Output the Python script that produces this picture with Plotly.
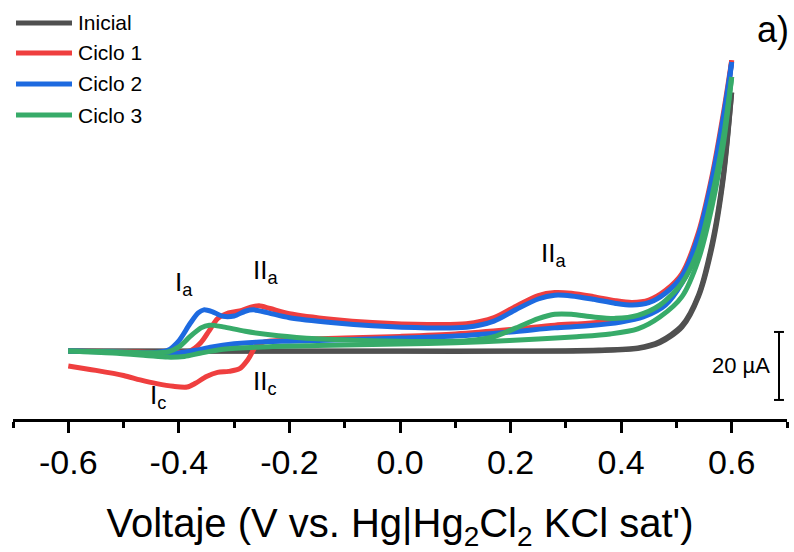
import plotly.graph_objects as go

# ---------------- data (V vs. current in µA, baseline-shifted) ----------------
ini_fwd_v = [-0.6, -0.4, -0.2, 0.0, 0.2, 0.3, 0.36, 0.43, 0.47, 0.51, 0.54, 0.565, 0.585, 0.6]
ini_fwd_i = [0, 0, 0, 0, 0, 0.1, 0.3, 0.9, 2.8, 7.5, 16.5, 32, 52, 76]
ini_rev_v = [0.6, 0.585, 0.565, 0.54, 0.51, 0.47, 0.43, 0.36, 0.2, 0.0, -0.2, -0.4, -0.6]
ini_rev_i = [76, 51, 31, 16, 7, 2.4, 0.7, 0.1, -0.1, -0.1, -0.1, -0.1, 0]

c1_fwd_v = [-0.6, -0.5, -0.42, -0.38, -0.36, -0.345, -0.33, -0.31, -0.29, -0.27, -0.255, -0.235, -0.2,
            -0.12, -0.05, 0.05, 0.12, 0.17, 0.21, 0.25, 0.28, 0.31, 0.35, 0.39, 0.42, 0.45, 0.48, 0.51,
            0.54, 0.565, 0.585, 0.6]
c1_fwd_i = [0, -0.2, -0.4, 0, 2.5, 6, 9.5, 11.2, 11.8, 12.9, 13.3, 12.5, 11, 9.3, 8.4, 7.8, 8.0, 9.8,
            13.2, 16.3, 17.2, 17.0, 16.0, 14.8, 14.3, 15.0, 17.8, 22.8, 35, 52, 70, 85.5]
c1_rev_v = [0.6, 0.585, 0.565, 0.54, 0.51, 0.48, 0.44, 0.40, 0.34, 0.28, 0.2, 0.1, 0.0, -0.1, -0.2,
            -0.245, -0.26, -0.275, -0.29, -0.31, -0.33, -0.35, -0.37, -0.385, -0.41, -0.44, -0.47,
            -0.5, -0.55, -0.6]
c1_rev_i = [85.5, 66.5, 48, 32, 20.5, 14, 10.6, 9.2, 8.2, 7.6, 6.3, 5.0, 4.3, 3.8, 3.2, 2.7, 1.5, -2.5,
            -5.2, -6, -6.3, -7.5, -9.5, -10.6, -10.4, -9.6, -8.5, -7.2, -5.7, -4.4]

c2_fwd_v = [-0.6, -0.52, -0.45, -0.42, -0.40, -0.38, -0.365, -0.355, -0.34, -0.32, -0.30, -0.28, -0.265,
            -0.24, -0.2, -0.12, -0.05, 0.05, 0.12, 0.17, 0.21, 0.25, 0.28, 0.31, 0.35, 0.39, 0.42, 0.45,
            0.48, 0.51, 0.54, 0.565, 0.585, 0.6]
c2_fwd_i = [0, -0.2, -0.5, 0.2, 3, 8, 11.2, 12.1, 11.6, 10.2, 10.3, 11.7, 12.1, 11.3, 9.8, 8.3, 7.4, 6.8,
            7.0, 8.8, 12.2, 15.3, 16.4, 16.2, 15.2, 14.0, 13.5, 14.2, 17, 22, 34, 51, 69, 85]
c2_rev_v = [0.6, 0.585, 0.565, 0.54, 0.51, 0.48, 0.44, 0.40, 0.34, 0.28, 0.2, 0.1, 0.0, -0.1, -0.2,
            -0.26, -0.3, -0.34, -0.37, -0.40, -0.43, -0.47, -0.53, -0.6]
c2_rev_i = [85, 66, 47, 31, 20, 13.5, 10, 8.5, 7.4, 6.8, 5.6, 4.4, 3.8, 3.3, 2.9, 2.6, 2.1, 1.2, 0.2,
            -0.6, -0.9, -0.7, -0.3, 0]

c3_fwd_v = [-0.6, -0.52, -0.45, -0.42, -0.40, -0.38, -0.36, -0.345, -0.32, -0.28, -0.22, -0.15, -0.05,
            0.05, 0.12, 0.17, 0.21, 0.25, 0.28, 0.31, 0.35, 0.39, 0.43, 0.47, 0.51, 0.54, 0.565, 0.585, 0.6]
c3_fwd_i = [0, -0.2, -0.5, -0.3, 1.2, 4.2, 6.8, 7.6, 7.1, 5.8, 4.5, 3.6, 3.0, 2.8, 3.0, 4.2, 6.8, 9.5,
            10.8, 10.8, 10.0, 9.6, 10.5, 13.5, 20, 30, 46, 63, 80.6]
c3_rev_v = [0.6, 0.585, 0.565, 0.54, 0.51, 0.47, 0.43, 0.38, 0.32, 0.25, 0.15, 0.05, -0.05, -0.15, -0.25,
            -0.32, -0.36, -0.39, -0.42, -0.46, -0.52, -0.6]
c3_rev_i = [80.6, 61, 43, 27, 16, 10, 6.5, 5, 4.2, 3.5, 2.7, 2.2, 1.9, 1.6, 1.2, 0.5, -0.6, -1.6, -1.8,
            -1.3, -0.6, 0]

series_names = ["Inicial", "Ciclo 1", "Ciclo 2", "Ciclo 3"]
series_colors = ["#505050", "#ef3f3f", "#1d6ae0", "#37ab69"]

tick_vals = [-0.6, -0.4, -0.2, 0.0, 0.2, 0.4, 0.6]
tick_text = ["-0.6", "-0.4", "-0.2", "0.0", "0.2", "0.4", "0.6"]
minor_vals = [-0.7, -0.5, -0.3, -0.1, 0.1, 0.3, 0.5, 0.7]

scale_bar_ua = 20

# ---------------- figure ----------------
W, H = 794, 552
ML, MR, MT, MB = 13, 7, 10, 133
FONT = "Liberation Sans, Arial, sans-serif"

fig = go.Figure()
branches = [
    (ini_fwd_v, ini_fwd_i, ini_rev_v, ini_rev_i),
    (c1_fwd_v, c1_fwd_i, c1_rev_v, c1_rev_i),
    (c2_fwd_v, c2_fwd_i, c2_rev_v, c2_rev_i),
    (c3_fwd_v, c3_fwd_i, c3_rev_v, c3_rev_i),
]
for name, color, (fv, fi, rv, ri) in zip(series_names, series_colors, branches):
    for vv, ii in ((fv, fi), (rv, ri)):
        fig.add_trace(go.Scatter(x=vv, y=ii, mode="lines", name=name, legendgroup=name,
                                 showlegend=False,
                                 line=dict(color=color, width=5, shape="spline", smoothing=0.8)))

# manual legend (pixel -> paper)
def px2paper_x(px):
    return (px - ML) / (W - ML - MR)

def py2paper_y(py):
    return (H - MB - py) / (H - MT - MB)

shapes = []
annotations = []
leg_rows = [23, 53, 84, 115]
for name, color, ry in zip(series_names, series_colors, leg_rows):
    shapes.append(dict(type="line", xref="paper", yref="paper",
                       x0=px2paper_x(16), x1=px2paper_x(72), y0=py2paper_y(ry), y1=py2paper_y(ry),
                       line=dict(color=color, width=5)))
    annotations.append(dict(xref="paper", yref="paper", x=px2paper_x(76), y=py2paper_y(ry),
                            xanchor="left", yanchor="middle", text=name, showarrow=False,
                            font=dict(family=FONT, size=21, color="black")))

# scale bar (data coords)
bar_x = 0.6855
bar_lo = -14.4
shapes.append(dict(type="line", xref="x", yref="y", x0=bar_x, x1=bar_x, y0=bar_lo, y1=bar_lo + scale_bar_ua,
                   line=dict(color="black", width=2)))
for yy in (bar_lo, bar_lo + scale_bar_ua):
    shapes.append(dict(type="line", xref="x", yref="y", x0=bar_x - 0.009, x1=bar_x + 0.009, y0=yy, y1=yy,
                       line=dict(color="black", width=2)))
annotations.append(dict(xref="x", yref="y", x=0.673, y=bar_lo + scale_bar_ua / 2, xanchor="right",
                        yanchor="middle", text=f"{scale_bar_ua} µA", showarrow=False,
                        font=dict(family=FONT, size=22, color="black")))

# peak labels
peak_labels = [
    ("I<sub>a</sub>", -0.41, 19.8),
    ("II<sub>a</sub>", -0.27, 23.5),
    ("I<sub>c</sub>", -0.455, -13.5),
    ("II<sub>c</sub>", -0.27, -9.2),
    ("II<sub>a</sub>", 0.251, 28.5),
]
for txt, xx, yy in peak_labels:
    annotations.append(dict(xref="x", yref="y", x=xx, y=yy, xanchor="left", yanchor="middle",
                            text=txt, showarrow=False, font=dict(family=FONT, size=26, color="black")))

annotations.append(dict(xref="paper", yref="paper", x=px2paper_x(791), y=py2paper_y(29), xanchor="right",
                        yanchor="middle", text="a)", showarrow=False,
                        font=dict(family=FONT, size=36, color="black")))

fig.update_layout(
    width=W, height=H,
    margin=dict(l=ML, r=MR, t=MT, b=MB),
    paper_bgcolor="white", plot_bgcolor="white",
    showlegend=False,
    shapes=shapes, annotations=annotations,
    xaxis=dict(range=[-0.7, 0.7], showgrid=False, zeroline=False,
               showline=True, linecolor="black", linewidth=3,
               ticks="outside", ticklen=11, tickwidth=3, tickcolor="black",
               tickvals=tick_vals, ticktext=tick_text,
               tickfont=dict(family=FONT, size=34, color="black"),
               minor=dict(tickvals=minor_vals, ticks="outside", ticklen=6, tickwidth=3, tickcolor="black"),
               title=dict(text="Voltaje (V vs. Hg|Hg<sub>2</sub>Cl<sub>2</sub> KCl sat')",
                          font=dict(family=FONT, size=40, color="black"), standoff=30)),
    yaxis=dict(range=[-20, 100.3], visible=False),
)

fig.write_html("out.html")
